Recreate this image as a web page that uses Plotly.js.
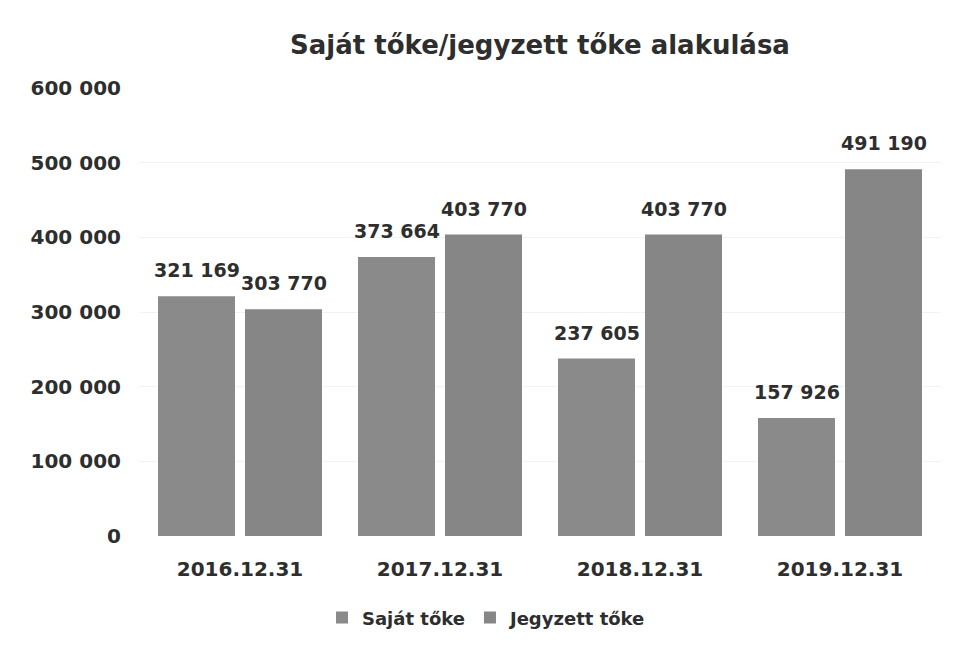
<!DOCTYPE html>
<html>
<head>
<meta charset="utf-8">
<script src="https://cdn.plot.ly/plotly-3.0.1.min.js"></script>
<style>html,body{margin:0;padding:0;background:#fff;}#chart{width:954px;height:647px;}</style>
</head>
<body>
<div id="chart"></div>
<script>
const categories = ["2016.12.31", "2017.12.31", "2018.12.31", "2019.12.31"];
const sajatToke = [321169, 373664, 237605, 157926];
const jegyzettToke = [303770, 403770, 403770, 491190];
const yTickVals = [0, 100000, 200000, 300000, 400000, 500000, 600000];

function fmt(v) {
  return String(v).replace(/\B(?=(\d{3})+(?!\d))/g, " ");
}

const FONT = "DejaVu Sans, Verdana, sans-serif";
const TXT = "#2e2e2e";
const BARGAP = 0.13, GROUPGAP = 0.115;

const traces = [
  {
    type: "bar", name: "Saját tőke", x: categories, y: sajatToke,
    marker: {color: "#8a8a8a"}, hoverinfo: "none"
  },
  {
    type: "bar", name: "Jegyzett tőke", x: categories, y: jegyzettToke,
    marker: {color: "#868686"}, hoverinfo: "none"
  }
];

// data labels, built from the series arrays, offset to each bar's centre
const plotW = 954 - 140 - 14;
const slotPx = plotW / categories.length * (1 - BARGAP) / 2;
function labels(vals, side) {
  return vals.map((v, i) => ({
    x: categories[i], y: v, xref: "x", yref: "y",
    text: "<b>" + fmt(v) + "</b>", showarrow: false,
    xanchor: "center", yanchor: "bottom",
    xshift: side * slotPx / 2, yshift: 13,
    font: {family: FONT, size: 19, color: TXT}
  }));
}

const layout = {
  width: 954, height: 647,
  margin: {l: 140, r: 14, t: 88, b: 110},
  paper_bgcolor: "#ffffff", plot_bgcolor: "#ffffff",
  font: {family: FONT, color: TXT, weight: "bold"},
  title: {
    text: "<b>Saját tőke/jegyzett tőke alakulása</b>",
    font: {family: FONT, size: 26, color: TXT},
    x: 0.5, xref: "paper", xanchor: "center",
    y: 0.93, yref: "container", yanchor: "middle"
  },
  barmode: "group", bargap: BARGAP, bargroupgap: GROUPGAP,
  xaxis: {
    showgrid: false, zeroline: false, showline: false,
    tickfont: {family: FONT, size: 20, color: TXT, weight: "bold"},
    ticks: "", ticklabelstandoff: 19
  },
  yaxis: {
    range: [0, 600000], tickvals: yTickVals, ticktext: yTickVals.map(fmt),
    showgrid: true, gridcolor: "#f2f2f2", gridwidth: 1,
    zeroline: false, showline: false,
    tickfont: {family: FONT, size: 20, color: TXT, weight: "bold"},
    ticks: "", ticklabelstandoff: 18
  },
  annotations: labels(sajatToke, -1).concat(labels(jegyzettToke, 1)),
  showlegend: true,
  legend: {
    orientation: "h", x: 0.2275, xanchor: "left", y: -0.18, yanchor: "middle",
    font: {family: FONT, size: 18, color: TXT, weight: "bold"},
    itemwidth: 30, itemsizing: "constant"
  }
};

Plotly.newPlot("chart", traces, layout, {displayModeBar: false, staticPlot: true});
</script>
</body>
</html>
